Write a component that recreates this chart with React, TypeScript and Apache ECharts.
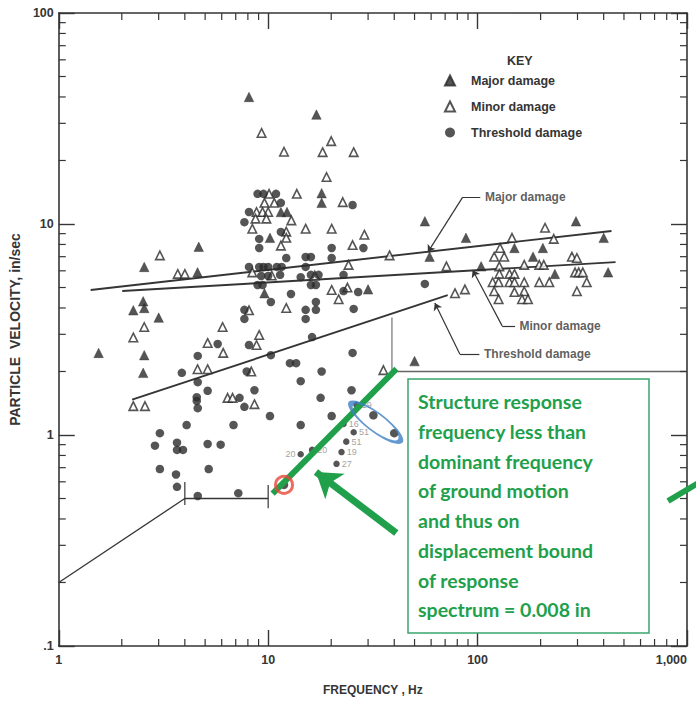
import React, { useEffect, useRef } from "react";
import * as echarts from "echarts";

// ---- axes ----
const X_MIN = 1;
const X_MAX = 1000;
const Y_MIN = 0.1;
const Y_MAX = 100;
const X_TICK_LABELS = ["1", "10", "100", "1,000"]; // 10^0 .. 10^3
const Y_TICK_LABELS = [".1", "1", "10", "100"]; // 10^-1 .. 10^2
const X_MINOR = [2, 3, 4, 5, 6, 7, 8, 9, 20, 30, 40, 50, 60, 70, 80, 90, 200, 300, 400, 500, 600, 700, 800, 900];
const Y_MINOR = [0.2, 0.3, 0.4, 0.5, 0.6, 0.7, 0.8, 0.9, 2, 3, 4, 5, 6, 7, 8, 9, 20, 30, 40, 50, 60, 70, 80, 90];

// ---- observations [frequency Hz, particle velocity in/sec] ----
const MAJOR_DAMAGE = [
  [8.1, 40], [17, 33], [18, 14], [18, 12.6], [11.5, 11.4], [12.3, 11.4], [10.2, 8.6], [9.6, 4.7],
  [30, 4.9], [88, 8.6], [56, 10.3], [59, 7.0], [50, 2.24], [104, 6.3], [150, 7.7], [205, 7.7],
  [184, 7.0], [234, 5.8], [420, 5.9], [400, 8.6], [295, 10.3], [1.55, 2.45], [2.27, 3.9],
  [2.53, 4.3], [2.56, 4.0], [2.56, 2.39], [2.53, 1.97], [2.56, 6.26], [4.66, 7.8], [4.6, 5.9], [3.0, 3.6],
];

const MINOR_DAMAGE = [
  [9.3, 27], [20, 24.7], [11.9, 22], [18.2, 21.9], [25.6, 21.9], [19, 16.7], [13.7, 13.9], [22.7, 12.7],
  [10.1, 13.9], [9.6, 12.6], [10.7, 12.6], [8.8, 11.4], [9.4, 11.4], [10.0, 11.4], [8.7, 10.6], [9.8, 10.6],
  [12.9, 10.4], [8.4, 9.5], [12.2, 9.2], [15.1, 9.5], [20.1, 9.5], [12.2, 8.6], [11.5, 7.9], [8.4, 5.9],
  [10.4, 5.7], [16.7, 5.7], [20.1, 4.87], [23.9, 5.0], [21.7, 4.4], [12.2, 4.0], [8.1, 3.9], [25.3, 7.95],
  [28.8, 8.9], [24.2, 6.4], [38, 7.1], [71, 6.3], [78, 4.7], [87, 4.9], [35.5, 2.03],
  [146, 8.6], [231, 8.5], [210, 9.6], [128, 7.7], [120, 7.0], [134, 7.0], [282, 7.0], [298, 6.9],
  [127, 6.3], [167, 6.4], [197, 6.4], [207, 6.4], [127, 5.8], [142, 5.8], [150, 5.8], [292, 5.9],
  [304, 5.9], [318, 5.9], [118, 5.3], [126, 5.3], [142, 5.3], [150, 5.3], [167, 5.3], [197, 5.3],
  [220, 5.3], [332, 5.3], [120, 4.8], [150, 4.76], [167, 4.8], [298, 4.8], [126, 4.4], [163, 4.4], [174, 4.4],
  [3.04, 7.1], [3.7, 5.8], [4.0, 5.8], [2.27, 2.9], [2.56, 3.25], [2.27, 1.37], [2.58, 1.37], [6.06, 3.25],
  [5.14, 2.73], [6.1, 2.45], [4.6, 2.05], [5.14, 2.05], [6.4, 1.5], [6.76, 1.5], [8.6, 1.4], [9.06, 2.98],
  [8.8, 2.67], [8.3, 2.0],
];

const THRESHOLD_DAMAGE = [
  [8.9, 13.9], [9.5, 13.9], [10.9, 13.9], [11.5, 12.6], [8.1, 11.4], [7.7, 10.2], [11.5, 9.17], [9.06, 8.5],
  [9.06, 7.7], [20.1, 7.7], [12.2, 6.9], [15.1, 6.98], [16.0, 6.98], [20.1, 6.9], [8.1, 6.26], [9.06, 6.26],
  [9.5, 6.26], [10.0, 6.26], [11.0, 6.26], [11.6, 6.26], [15.1, 6.26], [22.9, 5.74], [9.26, 5.67], [10.0, 5.67],
  [11.4, 5.74], [14.3, 5.6], [16.0, 5.74], [17.4, 5.74], [8.9, 5.14], [9.4, 5.14], [16.0, 5.14], [16.9, 5.14],
  [12.85, 4.66], [22.9, 4.81], [26.9, 4.76], [10.3, 4.27], [16.9, 4.27], [15.1, 3.92], [16.9, 3.92], [7.7, 3.92],
  [7.7, 3.55], [15.1, 3.55], [25.3, 12.3], [28.5, 7.7], [25.6, 3.96], [56, 5.2], [16.2, 2.91], [10.3, 2.39],
  [12.7, 2.19], [13.6, 2.19], [8.1, 2.67], [7.9, 2.0], [18.0, 2.0], [14.3, 1.8], [8.6, 1.63], [25.3, 2.45],
  [25.0, 1.63], [17.8, 1.5], [7.3, 1.5], [7.7, 1.36], [10.2, 1.23], [20.1, 1.23], [14.3, 1.115], [6.83, 1.115],
  [4.08, 1.115], [3.04, 1.02], [5.74, 2.7], [4.61, 2.37], [3.87, 1.97], [4.61, 1.78], [5.14, 1.62], [4.56, 1.51],
  [4.56, 1.45], [4.61, 1.34], [2.88, 0.89], [3.67, 0.92], [3.67, 0.85], [3.92, 0.85], [5.14, 0.907], [5.93, 0.9],
  [3.04, 0.69], [3.63, 0.65], [5.2, 0.69], [3.67, 0.568], [4.61, 0.514], [7.2, 0.53], [31.8, 1.24], [40, 1.02],
  [11.9, 0.58],
];

// threshold points that carry a small case number
const TAGGED = [[14.3, 0.81], [16.2, 0.85], [22.4, 0.83], [21.2, 0.73], [23.6, 0.93], [25.6, 1.03], [22.9, 1.127], [26.4, 1.39]];
const TAG_TEXT = ["20", "20", "19", "27", "51", "51", "16", "19"];

// ---- fitted / bounding lines ----
const MAJOR_LINE = [[1.42, 4.87], [436, 9.27]];
const MINOR_LINE = [[2.01, 4.81], [456, 6.6]];
const THRESHOLD_LINE = [[2.24, 1.47], [72, 4.6]];
const LOWER_BOUND = [[1, 0.2], [4, 0.5], [10, 0.5]];
const LOWER_BOUND_MARKS = [[[4, 0.466], [4, 0.598]], [[10, 0.45], [10, 0.58]]];
const DROP_40HZ = [[39, 3.6], [39, 2]];
const LEVEL_2 = [[39, 2], [1110, 2]];
const DISPLACEMENT_BOUND = [[10.5, 0.528], [41, 2.06]];

// ---- annotations ----
const LINE_LABELS = [
  { name: "Major damage", value: [106, 13.4] },
  { name: "Minor damage", value: [155, 3.29] },
  { name: "Threshold damage", value: [105, 2.42] },
];
const LEADER_STUBS = [
  [[103, 13.4], [84.9, 13.4]],
  [[151, 3.29], [131, 3.29]],
  [[102, 2.42], [82.2, 2.42]],
];
const LEADER_ARROWS = [
  [[84.9, 13.4], [57.9, 7.36]],
  [[131, 3.29], [94.7, 6.05]],
  [[82.2, 2.42], [62.5, 4.22]],
];
const GREEN_ARROW = [[40.9, 0.343], [16.9, 0.668]];
const BLUE_ELLIPSE = [[32.6, 1.15]];
const RED_CIRCLE = [[11.9, 0.58]];
const BOX_LINES = [
  "Structure response",
  "frequency less than",
  "dominant frequency",
  "of ground motion",
  "and thus on",
  "displacement bound",
  "of response",
  "spectrum = 0.008 in",
];

const INK = "#353535";
const GREEN = "#21a04c";
const FONT = "'Liberation Sans', Arial, sans-serif";

function buildOption() {
  const axisLine = { show: true, lineStyle: { color: INK, width: 1.6 } };
  const axisTick = { show: true, inside: true, length: 16, lineStyle: { color: INK, width: 1.4 } };
  const labelStyle = { fontSize: 12.5, fontWeight: "bold" as const, fontFamily: FONT, color: INK };
  const xFmt = (v: number) => X_TICK_LABELS[Math.round(Math.log10(v))] ?? "";
  const yFmt = (v: number) => Y_TICK_LABELS[Math.round(Math.log10(v)) + 1] ?? "";

  const lineSeries = (data: number[][], width = 1.8, color = INK, z = 3) => ({
    type: "line",
    data,
    symbol: "none",
    silent: true,
    animation: false,
    lineStyle: { color, width },
    z,
  });

  return {
    animation: false,
    backgroundColor: "#ffffff",
    grid: { left: 53, right: 9, top: 13, bottom: 55, containLabel: false },
    title: {
      text: "KEY",
      left: 507,
      top: 54,
      padding: 0,
      textStyle: { fontSize: 12.5, fontWeight: "bold", fontFamily: FONT, color: INK },
    },
    legend: {
      orient: "vertical",
      left: 439,
      top: 69,
      itemGap: 13,
      itemWidth: 10,
      itemHeight: 10,
      selectedMode: false,
      data: [
        { name: "Major damage", icon: "triangle" },
        { name: "Minor damage", icon: "triangle" },
        { name: "Threshold damage", icon: "circle" },
      ],
      textStyle: { fontSize: 12.5, fontWeight: "bold", fontFamily: FONT, color: INK, padding: [0, 0, 0, 11] },
    },
    xAxis: [
      {
        type: "log",
        logBase: 10,
        min: X_MIN,
        max: X_MAX,
        position: "bottom",
        axisLine,
        axisTick,
        splitLine: { show: false },
        axisLabel: { ...labelStyle, formatter: xFmt, margin: 7, showMinLabel: true, showMaxLabel: true, alignMaxLabel: "right" },
        name: "FREQUENCY , Hz",
        nameLocation: "middle",
        nameGap: 38,
        nameTextStyle: { fontSize: 12, fontWeight: "bold", fontFamily: FONT, color: INK },
      },
      {
        type: "log",
        logBase: 10,
        min: X_MIN,
        max: X_MAX,
        position: "top",
        axisLine,
        axisTick,
        splitLine: { show: false },
        axisLabel: { show: false },
      },
    ],
    yAxis: [
      {
        type: "log",
        logBase: 10,
        min: Y_MIN,
        max: Y_MAX,
        position: "left",
        axisLine,
        axisTick,
        splitLine: { show: false },
        axisLabel: { ...labelStyle, formatter: yFmt, margin: 5, showMinLabel: true, showMaxLabel: true },
        name: "PARTICLE  VELOCITY, in/sec",
        nameLocation: "middle",
        nameGap: 30,
        nameRotate: 90,
        nameTextStyle: { fontSize: 14, fontWeight: "bold", fontFamily: FONT, color: INK },
      },
      {
        type: "log",
        logBase: 10,
        min: Y_MIN,
        max: Y_MAX,
        position: "right",
        axisLine,
        axisTick,
        splitLine: { show: false },
        axisLabel: { show: false },
      },
    ],
    graphic: [
      {
        type: "rect",
        z: 100,
        shape: { x: 408, y: 379, width: 241, height: 254 },
        style: { fill: "#ffffff", stroke: "#3aa56b", lineWidth: 1.5 },
      },
      {
        type: "text",
        z: 101,
        x: 418,
        y: 387,
        style: {
          text: BOX_LINES.join("\n"),
          fill: GREEN,
          fontSize: 19.5,
          fontWeight: "bold",
          fontFamily: "Lato, 'Open Sans', sans-serif",
          lineHeight: 29.7,
          verticalAlign: "top",
        },
      },
      {
        type: "line",
        z: 100,
        shape: { x1: 668, y1: 501, x2: 700, y2: 482 },
        style: { stroke: GREEN, lineWidth: 6 },
      },
    ],
    series: [
      // minor ticks on all four sides (log paper)
      {
        type: "custom",
        silent: true,
        clip: false,
        z: 4,
        data: X_MINOR.map((v) => [v, 1]),
        renderItem: (_p: any, api: any) => {
          const v = api.value(0);
          const b = api.coord([v, Y_MIN]);
          const t = api.coord([v, Y_MAX]);
          const st = { stroke: INK, lineWidth: 1.2 };
          return {
            type: "group",
            children: [
              { type: "line", shape: { x1: b[0], y1: b[1], x2: b[0], y2: b[1] - 7 }, style: st },
              { type: "line", shape: { x1: t[0], y1: t[1], x2: t[0], y2: t[1] + 7 }, style: st },
            ],
          };
        },
      },
      {
        type: "custom",
        silent: true,
        clip: false,
        z: 4,
        data: Y_MINOR.map((v) => [1, v]),
        renderItem: (_p: any, api: any) => {
          const v = api.value(1);
          const l = api.coord([X_MIN, v]);
          const r = api.coord([X_MAX, v]);
          const st = { stroke: INK, lineWidth: 1.2 };
          return {
            type: "group",
            children: [
              { type: "line", shape: { x1: l[0], y1: l[1], x2: l[0] + 7, y2: l[1] }, style: st },
              { type: "line", shape: { x1: r[0], y1: r[1], x2: r[0] - 7, y2: r[1] }, style: st },
            ],
          };
        },
      },
      lineSeries(MAJOR_LINE, 1.9),
      lineSeries(MINOR_LINE, 1.9),
      lineSeries(THRESHOLD_LINE, 1.9),
      lineSeries(LOWER_BOUND, 1.3),
      ...LOWER_BOUND_MARKS.map((seg) => lineSeries(seg, 1.2)),
      lineSeries(DROP_40HZ, 1.1, "#666"),
      { ...lineSeries(LEVEL_2, 1.6, "#666"), clip: false },
      {
        type: "lines",
        coordinateSystem: "cartesian2d",
        silent: true,
        z: 3,
        symbol: "none",
        lineStyle: { color: INK, width: 1.2, opacity: 1 },
        data: LEADER_STUBS.map((coords) => ({ coords })),
      },
      {
        type: "lines",
        coordinateSystem: "cartesian2d",
        silent: true,
        z: 3,
        symbol: ["none", "arrow"],
        symbolSize: 7,
        lineStyle: { color: INK, width: 1.2, opacity: 1 },
        data: LEADER_ARROWS.map((coords) => ({ coords })),
      },
      {
        type: "scatter",
        silent: true,
        z: 3,
        symbolSize: 0,
        data: LINE_LABELS,
        label: {
          show: true,
          position: "right",
          distance: 2,
          formatter: "{b}",
          fontSize: 12,
          fontWeight: "bold",
          fontFamily: FONT,
          color: INK,
        },
      },
      {
        name: "Major damage",
        type: "scatter",
        symbol: "triangle",
        symbolSize: 9.5,
        z: 5,
        itemStyle: { color: "#2b2b2b", borderColor: "#2b2b2b", borderWidth: 0.5 },
        data: MAJOR_DAMAGE,
      },
      {
        name: "Minor damage",
        type: "scatter",
        symbol: "triangle",
        symbolSize: 8.5,
        z: 5,
        itemStyle: { color: "#ffffff", borderColor: "#2b2b2b", borderWidth: 1.6 },
        data: MINOR_DAMAGE,
      },
      {
        name: "Threshold damage",
        type: "scatter",
        symbol: "circle",
        symbolSize: 8.5,
        z: 5,
        itemStyle: { color: "#2b2b2b" },
        data: THRESHOLD_DAMAGE,
      },
      {
        name: "Threshold damage",
        type: "scatter",
        symbol: "circle",
        symbolSize: 6.5,
        z: 5,
        itemStyle: { color: "#2b2b2b" },
        data: TAGGED.map((v, i) => ({
          value: v,
          label: {
            show: true,
            formatter: TAG_TEXT[i],
            position: i === 0 ? "left" : "right",
            distance: 2,
            fontSize: 9,
            fontFamily: FONT,
            color: "#8a8a8a",
          },
        })),
      },
      {
        ...lineSeries(DISPLACEMENT_BOUND, 6, GREEN, 8),
      },
      {
        type: "lines",
        coordinateSystem: "cartesian2d",
        silent: true,
        z: 8,
        symbol: ["none", "arrow"],
        symbolSize: 24,
        lineStyle: { color: GREEN, width: 7, opacity: 1 },
        data: [{ coords: GREEN_ARROW }],
      },
      {
        type: "scatter",
        silent: true,
        z: 8,
        symbol: "circle",
        symbolSize: [62, 18],
        symbolRotate: -37,
        itemStyle: { color: "rgba(0,0,0,0)", borderColor: "#3d7fc4", borderWidth: 3 },
        data: BLUE_ELLIPSE,
      },
      {
        type: "scatter",
        silent: true,
        z: 8,
        symbol: "circle",
        symbolSize: 17,
        itemStyle: { color: "rgba(0,0,0,0)", borderColor: "#e8473b", borderWidth: 3 },
        data: RED_CIRCLE,
      },
    ],
  };
}

export default function App() {
  const ref = useRef<HTMLDivElement>(null);
  useEffect(() => {
    if (!ref.current) return;
    const chart = echarts.init(ref.current, null, { renderer: "svg" });
    chart.setOption(buildOption() as any);
    return () => chart.dispose();
  }, []);
  return (
    <div
      ref={ref}
      style={{ position: "absolute", left: 0, top: 0, width: 696, height: 701, background: "#ffffff" }}
    />
  );
}
